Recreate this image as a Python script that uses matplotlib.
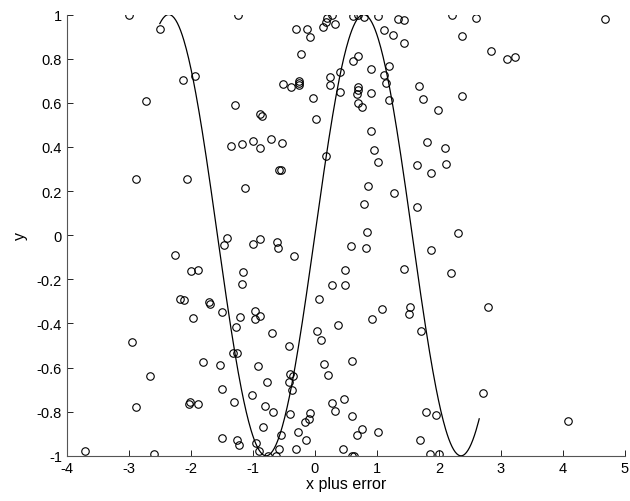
import numpy as np
import matplotlib
matplotlib.use("Agg")
import matplotlib.pyplot as plt

plt.rcParams['font.family'] = ['Liberation Sans', 'DejaVu Sans']
plt.rcParams['axes.unicode_minus'] = False

# scatter data: x plus error, y
x_pts = [
    -2.99, -2.50, -2.73, -2.12, -1.94,
    -1.24, -0.30, -0.12, -0.075, -0.22, 0.28, 0.20, 0.18, 0.13, 0.33, -0.52, -0.385,
    -0.26, -0.26, -0.25, 0.25, 0.25, 0.41, 0.41, -0.03, 0.02, -1.29, -0.89, -0.85,
    -1.35, -1.18, -1.00, -0.89, -0.70, -0.53,
    0.18, -0.58, -0.54, -1.13, -1.42, -1.47, -0.99, -0.88, -0.605, -0.60, -0.33,
    -1.88, -1.16, -1.17, 0.28,
    -2.88, -2.06, -2.26, -2.0,
    -2.17, -2.11, -1.97, -2.95, -1.81, -2.66, -2.89, -2.03, -2.01, -1.88,
    -1.70, -1.685, -1.50, -1.20, -0.96, -0.88, -0.97, -1.27, -0.685, 0.064, 0.37,
    0.03, 0.10, -0.41, -1.32, -1.25, -1.535, -0.915, 0.15, 0.21, -0.40, -0.35,
    -0.41, -0.765, -0.37, -1.50, -1.02, -1.31, -0.80, -0.67, -0.40, -0.085, -0.096,
    -0.156, -0.83, 0.27, 0.33,
    0.96, 1.01, 0.86, 1.27, 0.80, 0.84, 0.58, 0.83, 0.49, 0.49, 1.43, 1.65, 1.87,
    2.12, 1.64, 2.30, 1.87, 2.19,
    0.62, 0.695, 0.80, 1.01, 1.34, 1.43, 1.12, 1.26, 1.43, 2.21, 2.595, 2.38, 0.70,
    0.62, 0.91, 1.20, 1.11, 1.14, 0.70, 0.70, 0.685, 0.695, 0.755, 0.91, 1.19, 0.91,
    1.685, 1.75, 2.37, 1.985, 1.81, 2.10,
    2.84, 3.09, 3.22, 4.68,
    1.09, 0.925, 1.53, 1.51, 1.71, 0.605, 0.47, 0.60, 0.76, 1.02, 1.80, 1.95, 2.71,
    2.79, 4.08,
    -0.54, -0.27, 0.68,
    -3.7, -2.6, -1.5, -1.25, -1.22, -0.95, -0.9, -0.75, -0.62, -0.58, -0.3, -0.15,
    0.6, 0.63, 0.45, 1.7, 1.85, 2.0,
]
y_pts = [
    1.00, 0.936, 0.609, 0.705, 0.723,
    1.0, 0.936, 0.935, 0.90, 0.82, 1.0, 0.985, 0.965, 0.943, 0.955, 0.684, 0.67,
    0.70, 0.69, 0.68, 0.715, 0.68, 0.74, 0.65, 0.62, 0.526, 0.588, 0.549, 0.538,
    0.405, 0.412, 0.427, 0.397, 0.435, 0.42,
    0.358, 0.296, 0.297, 0.215, -0.012, -0.045, -0.038, -0.015, -0.03, -0.056, -0.095,
    -0.157, -0.168, -0.22, -0.225,
    0.253, 0.255, -0.088, -0.164,
    -0.288, -0.292, -0.374, -0.483, -0.574, -0.638, -0.78, -0.766, -0.756, -0.764,
    -0.303, -0.31, -0.347, -0.371, -0.344, -0.368, -0.38, -0.415, -0.442, -0.289, -0.406,
    -0.435, -0.473, -0.50, -0.535, -0.536, -0.59, -0.595, -0.582, -0.635, -0.629, -0.636,
    -0.666, -0.664, -0.703, -0.695, -0.725, -0.757, -0.773, -0.80, -0.81, -0.807, -0.833,
    -0.845, -0.868, -0.759, -0.797,
    0.386, 0.332, 0.223, 0.191, 0.14, 0.014, -0.05, -0.059, -0.16, -0.226, -0.153, 0.318, 0.284,
    0.321, 0.129, 0.009, -0.065, -0.173,
    0.995, 1.0, 0.99, 0.993, 0.982, 0.977, 0.932, 0.906, 0.871, 1.0, 0.986, 0.902, 0.814,
    0.79, 0.753, 0.768, 0.726, 0.691, 0.672, 0.66, 0.638, 0.597, 0.582, 0.644, 0.615, 0.474,
    0.676, 0.618, 0.632, 0.567, 0.423, 0.397,
    0.834, 0.797, 0.809, 0.979,
    -0.336, -0.379, -0.325, -0.357, -0.433, -0.571, -0.744, -0.82, -0.877, -0.894, -0.80, -0.815, -0.714,
    -0.325, -0.841,
    -0.906, -0.89, -0.906,
    -0.98, -0.99, -0.92, -0.93, -0.95, -0.94, -0.98, -1.0, -1.0, -0.97, -0.97, -0.93,
    -1.0, -1.0, -0.97, -0.93, -0.99, -0.99,
]

# model curve y = sin(2x) over the fitted range
curve_start, curve_end = -2.5, 2.65

x_ticks = [-4, -3, -2, -1, 0, 1, 2, 3, 4, 5]
y_ticks = [-1, -0.8, -0.6, -0.4, -0.2, 0, 0.2, 0.4, 0.6, 0.8, 1]

fig = plt.figure(figsize=(6.3, 5.02), dpi=100)
ax = fig.add_axes([0.106, 0.090, 0.886, 0.879])

xc = np.linspace(curve_start, curve_end, 400)
ax.plot(xc, np.sin(2 * xc), color='black', lw=0.9)
ax.plot(x_pts, y_pts, 'o', mfc='none', mec='black', ms=5.4, mew=0.8)

ax.set_xlim(-4, 5)
ax.set_ylim(-1, 1)
ax.set_xticks(x_ticks)
ax.set_yticks(y_ticks)
ax.set_xticklabels([f"{v:g}" for v in x_ticks])
ax.set_yticklabels([f"{v:g}" for v in y_ticks])
ax.tick_params(direction='in', length=4, width=0.6, labelsize=10.5, colors='black')
for s in ['top', 'right']:
    ax.spines[s].set_visible(False)
for s in ['left', 'bottom']:
    ax.spines[s].set_color('#555555')
    ax.spines[s].set_linewidth(0.8)
ax.set_xlabel('x plus error', fontsize=11.5, labelpad=1)
ax.set_ylabel('y', fontsize=11.5, labelpad=6)

fig.savefig('out.png', dpi=100)
